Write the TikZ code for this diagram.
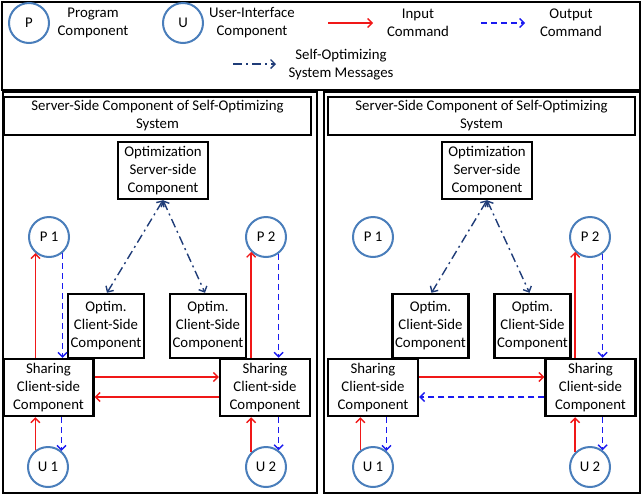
\documentclass[tikz,border=0pt]{standalone}
\usepackage{fontspec}
\setmainfont{Carlito}
\usetikzlibrary{arrows.meta}
\definecolor{circblue}{HTML}{4A7EBB}
\definecolor{inred}{HTML}{F01818}
\definecolor{outblue}{HTML}{1A1AF0}
\definecolor{msgnavy}{HTML}{1F3C78}
\begin{document}
\begin{tikzpicture}[x=1pt,y=-1pt,
  font=\fontsize{14.8}{18}\selectfont,
  frame/.style={draw, line width=2.2pt, inner sep=0pt, anchor=north west},
  box/.style={draw, line width=2.4pt, align=center, inner sep=0pt},
  titlebox/.style={box, minimum width=307pt, minimum height=38pt},
  optbox/.style={box, minimum width=90pt, minimum height=57pt},
  ocbox/.style={box, minimum width=76pt, minimum height=64pt},
  shbox/.style={box, minimum width=90pt, minimum height=57pt},
  circ/.style={circle, draw=circblue, line width=2pt, minimum size=40pt, inner sep=0pt},
  lbl/.style={align=center, inner sep=0pt},
  tip/.style={-{Straight Barb[length=4.5pt,width=9pt]}},
  inarrow/.style={draw=inred, line width=1.4pt, tip},
  outarrow/.style={draw=outblue, line width=1.4pt, dash pattern=on 6pt off 4pt, tip},
  msgarrow/.style={draw=msgnavy, line width=1.4pt, dash pattern=on 9pt off 4pt on 2pt off 4pt, tip},
  msgboth/.style={msgarrow, {Straight Barb[length=4.5pt,width=9pt]}-{Straight Barb[length=4.5pt,width=9pt]}}
]
\useasboundingbox (0,0) rectangle (643,496);

% ---------- legend ----------
\node[frame, minimum width=638pt, minimum height=88pt] (legend) at (1,1) {};
\node[circ] (lp) at (29,23) {P};
\node[lbl] (lpt) at (93,23) {Program\\Component};
\node[circ] (lu) at (183,23) {U};
\node[lbl] (lut) at (252,23) {User-Interface\\Component};
\coordinate (ia) at (328,23); \coordinate (ib) at (373,23);
\draw[inarrow] (ia) -- (ib);
\node[lbl] (lit) at (418,23) {Input\\Command};
\coordinate (oa) at (481,23); \coordinate (ob) at (525,23);
\draw[outarrow] (oa) -- (ob);
\node[lbl] (lot) at (571,23) {Output\\Command};
\coordinate (ma) at (233,64); \coordinate (mb) at (276,64);
\draw[msgarrow] (ma) -- (mb);
\node[lbl] (lmt) at (341,65) {Self-Optimizing\\System Messages};

% ---------- left panel ----------
\node[frame, minimum width=314pt, minimum height=401pt] (lpanel) at (2,91) {};
\node[titlebox] (Ltitle) at (157.5,116) {Server-Side Component of Self-Optimizing\\System};
\node[optbox] (Lopt) at (163,170.5) {Optimization\\Server-side\\Component};
\node[circ] (LP1) at (49,237) {P 1};
\node[circ] (LP2) at (266,237) {P 2};
\node[ocbox] (Loc1) at (106,326) {Optim.\\Client-Side\\Component};
\node[ocbox] (Loc2) at (208,326) {Optim.\\Client-Side\\Component};
\node[shbox] (Lsh1) at (48.5,387.5) {Sharing\\Client-side\\Component};
\node[shbox] (Lsh2) at (265,387.5) {Sharing\\Client-side\\Component};
\node[circ] (LU1) at (48,467) {U 1};
\node[circ] (LU2) at (266,467) {U 2};

\draw[inarrow] (Lsh1.north -| LP1.230) -- (LP1.230);
\draw[outarrow] (LP1.310) -- (Lsh1.north -| LP1.310);
\draw[inarrow] (Lsh2.north -| LP2.225) -- (LP2.225);
\draw[outarrow] (LP2.307) -- (Lsh2.north -| LP2.307);
\draw[msgboth] ([xshift=1pt]Loc1.north) -- (Lopt.south);
\draw[msgboth] (Lopt.south) -- ([xshift=-3pt]Loc2.north);
\draw[inarrow] ([yshift=10.5pt]Lsh1.east) -- ([yshift=10.5pt]Lsh2.west);
\draw[inarrow] ([yshift=-9.5pt]Lsh2.west) -- ([yshift=-9.5pt]Lsh1.east);
\draw[inarrow] (LU1.127) -- (Lsh1.south -| LU1.127);
\draw[outarrow] (Lsh1.south -| LU1.50) -- (LU1.50);
\draw[inarrow] (LU2.135) -- (Lsh2.south -| LU2.135);
\draw[outarrow] (Lsh2.south -| LU2.53) -- (LU2.53);

% ---------- right panel ----------
\node[frame, minimum width=316pt, minimum height=401pt] (rpanel) at (323,91) {};
\node[titlebox] (Rtitle) at (481.5,116) {Server-Side Component of Self-Optimizing\\System};
\node[optbox] (Ropt) at (487,170.5) {Optimization\\Server-side\\Component};
\node[circ] (RP1) at (373,237) {P 1};
\node[circ] (RP2) at (590,237) {P 2};
\node[ocbox] (Roc1) at (430.5,326) {Optim.\\Client-Side\\Component};
\node[ocbox] (Roc2) at (532.5,326) {Optim.\\Client-Side\\Component};
\node[shbox] (Rsh1) at (373,387.5) {Sharing\\Client-side\\Component};
\node[shbox] (Rsh2) at (590.5,387.5) {Sharing\\Client-side\\Component};
\node[circ] (RU1) at (373,467) {U 1};
\node[circ] (RU2) at (590,467) {U 2};

\draw[inarrow] (Rsh2.north -| RP2.225) -- (RP2.225);
\draw[outarrow] (RP2.307) -- (Rsh2.north -| RP2.307);
\draw[msgboth] ([xshift=1pt]Roc1.north) -- (Ropt.south);
\draw[msgboth] (Ropt.south) -- ([xshift=-3pt]Roc2.north);
\draw[inarrow] ([yshift=10.5pt]Rsh1.east) -- ([yshift=10.5pt]Rsh2.west);
\draw[outarrow] ([yshift=-9.5pt]Rsh2.west) -- ([yshift=-9.5pt]Rsh1.east);
\draw[inarrow] (RU1.127) -- (Rsh1.south -| RU1.127);
\draw[outarrow] (Rsh1.south -| RU1.50) -- (RU1.50);
\draw[inarrow] (RU2.135) -- (Rsh2.south -| RU2.135);
\draw[outarrow] (Rsh2.south -| RU2.53) -- (RU2.53);
\end{tikzpicture}
\end{document}
